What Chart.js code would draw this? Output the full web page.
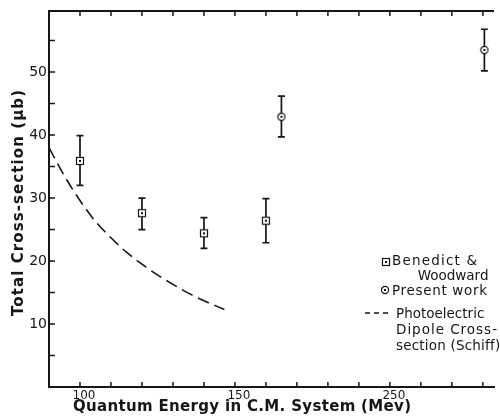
<!DOCTYPE html>
<html>
<head>
<meta charset="utf-8">
<script src="https://cdn.jsdelivr.net/npm/chart.js@4"></script>
<style>
  html, body { margin: 0; padding: 0; background: #fff; overflow: hidden; }
  canvas { display: block; }
</style>
</head>
<body>
<canvas id="chart" width="500" height="419"></canvas>
<script>
// Benedict & Woodward (squares)
const bwEnergy = [100, 120, 140, 160];
const bwSigma = [35.9, 27.6, 24.4, 26.4];
const bwLow = [32.0, 25.0, 22.0, 22.9];
const bwHigh = [39.9, 30.0, 26.9, 29.9];

// Present work (circles)
const pwEnergy = [165, 230.5];
const pwSigma = [42.9, 53.5];
const pwLow = [39.7, 50.2];
const pwHigh = [46.2, 56.8];

// Photoelectric dipole cross-section (Schiff), dashed
const dipoleEnergy = [90, 95, 100, 105, 110, 115, 120, 125, 130, 135, 140, 146.6];
const dipoleSigma = [38.0, 33.5, 29.6, 26.3, 23.7, 21.4, 19.5, 17.8, 16.3, 14.9, 13.7, 12.3];

// tick labels as printed on the figure
const xTickValues = [100, 150, 200];
const xTickLabels = ['100', '150', '250'];
const yTickValues = [10, 20, 30, 40, 50];
const yTickLabels = ['10', '20', '30', '40', '50'];

const ink = '#161616';

const toPoints = (xs, ys) => xs.map((v, i) => ({ x: v, y: ys[i] }));

// little marker images: open square / open circle with a centre dot
function makeMarker(shape) {
  const c = document.createElement('canvas');
  c.width = 10; c.height = 10;
  const g = c.getContext('2d');
  g.strokeStyle = ink; g.fillStyle = '#fff'; g.lineWidth = 1.2;
  if (shape === 'square') {
    g.fillRect(1.5, 1.5, 7, 7);
    g.strokeRect(1.5, 1.5, 7, 7);
  } else {
    g.beginPath(); g.arc(5, 5, 3.6, 0, Math.PI * 2); g.fill(); g.stroke();
  }
  g.fillStyle = ink;
  g.fillRect(4, 4, 2, 2);
  return c;
}
const squareMark = makeMarker('square');
const circleMark = makeMarker('circle');

// text stretched to a given width (lettered look)
function fitText(ctx, text, x, y, width) {
  ctx.letterSpacing = '0px';
  const w = ctx.measureText(text).width;
  const n = text.length - 1;
  const ls = n > 0 ? Math.max(0, (width - w) / n) : 0;
  ctx.letterSpacing = ls + 'px';
  ctx.textAlign = 'left';
  ctx.fillText(text, x, y);
  ctx.letterSpacing = '0px';
}

const errorBarPlugin = {
  id: 'errorBars',
  beforeDatasetsDraw(chart) {
    const { ctx, scales: { x, y } } = chart;
    const sets = [[bwEnergy, bwLow, bwHigh], [pwEnergy, pwLow, pwHigh]];
    ctx.save();
    ctx.strokeStyle = ink;
    ctx.lineWidth = 1.7;
    sets.forEach(([xs, lo, hi]) => xs.forEach((v, i) => {
      const px = x.getPixelForValue(v);
      const top = y.getPixelForValue(hi[i]);
      const bot = y.getPixelForValue(lo[i]);
      ctx.beginPath();
      ctx.moveTo(px, top); ctx.lineTo(px, bot);
      ctx.moveTo(px - 3.5, top); ctx.lineTo(px + 3.5, top);
      ctx.moveTo(px - 3.5, bot); ctx.lineTo(px + 3.5, bot);
      ctx.stroke();
    }));
    ctx.restore();
  }
};

const framePlugin = {
  id: 'frame',
  afterDraw(chart) {
    const { ctx, chartArea: a, scales: { x, y } } = chart;
    ctx.save();
    ctx.strokeStyle = ink;
    ctx.lineWidth = 2;
    ctx.beginPath();
    ctx.moveTo(a.left - 1, a.top); ctx.lineTo(a.right, a.top);
    ctx.stroke();

    // inward ticks
    ctx.lineWidth = 1.5;
    ctx.beginPath();
    x.ticks.forEach(t => {
      if (t.value <= x.min) return;
      const px = x.getPixelForValue(t.value);
      ctx.moveTo(px, a.bottom); ctx.lineTo(px, a.bottom - 5);
      ctx.moveTo(px, a.top); ctx.lineTo(px, a.top + 5);
    });
    y.ticks.forEach(t => {
      if (t.value <= y.min) return;
      const py = y.getPixelForValue(t.value);
      ctx.moveTo(a.left, py); ctx.lineTo(a.left + 6, py);
    });
    ctx.stroke();

    // axis titles
    ctx.fillStyle = ink;
    ctx.textBaseline = 'alphabetic';
    ctx.font = 'bold 15px "DejaVu Sans"';
    fitText(ctx, 'Quantum Energy in C.M. System (Mev)', 73, 411, 338);
    ctx.save();
    ctx.translate(23, 316);
    ctx.rotate(-Math.PI / 2);
    fitText(ctx, 'Total Cross-section (\u03bcb)', 0, 0, 226);
    ctx.restore();

    // legend
    ctx.font = '13.5px "DejaVu Sans"';
    ctx.drawImage(squareMark, 386 - 5, 262 - 5);
    fitText(ctx, 'Benedict &', 392, 265, 85);
    ctx.textAlign = 'right';
    ctx.fillText('Woodward', 488.5, 279.5);
    ctx.drawImage(circleMark, 385 - 5, 290 - 5);
    fitText(ctx, 'Present work', 392, 295, 95);
    ctx.lineWidth = 1.4;
    ctx.setLineDash([5, 4]);
    ctx.beginPath();
    ctx.moveTo(365, 313); ctx.lineTo(392, 313);
    ctx.stroke();
    ctx.setLineDash([]);
    fitText(ctx, 'Photoelectric', 396, 318, 86);
    fitText(ctx, 'Dipole Cross-', 396, 334, 101);
    fitText(ctx, 'section (Schiff)', 396, 349.5, 104);
    ctx.restore();
  }
};

new Chart(document.getElementById('chart'), {
  type: 'scatter',
  data: {
    datasets: [
      {
        label: 'Photoelectric Dipole Cross-section (Schiff)',
        data: toPoints(dipoleEnergy, dipoleSigma),
        showLine: true,
        borderColor: ink,
        borderWidth: 1.6,
        borderDash: [12, 6],
        cubicInterpolationMode: 'monotone',
        pointRadius: 0,
        fill: false
      },
      {
        label: 'Benedict & Woodward',
        data: toPoints(bwEnergy, bwSigma),
        pointStyle: squareMark,
        pointRadius: 5
      },
      {
        label: 'Present work',
        data: toPoints(pwEnergy, pwSigma),
        pointStyle: circleMark,
        pointRadius: 5
      }
    ]
  },
  options: {
    responsive: false,
    devicePixelRatio: 1,
    animation: false,
    layout: { padding: { top: 11, right: 0, left: 0, bottom: 0 } },
    plugins: { legend: { display: false }, tooltip: { enabled: false } },
    scales: {
      x: {
        type: 'linear',
        position: 'bottom',
        min: 90,
        max: 233.6,
        grid: { display: false, drawTicks: false },
        border: { display: true, color: ink, width: 2 },
        ticks: {
          stepSize: 10,
          includeBounds: false,
          autoSkip: false,
          maxRotation: 0,
          padding: 2,
          labelOffset: 4,
          color: ink,
          font: { family: 'DejaVu Sans', size: 12 },
          callback: v => {
            const i = xTickValues.indexOf(v);
            return i >= 0 ? xTickLabels[i] : '';
          }
        },
        afterFit: s => { s.height = 32; }
      },
      y: {
        type: 'linear',
        min: 0,
        max: 59.7,
        grid: { display: false, drawTicks: false },
        border: { display: true, color: ink, width: 2 },
        ticks: {
          stepSize: 5,
          includeBounds: false,
          autoSkip: false,
          padding: 2,
          color: ink,
          font: { family: 'DejaVu Sans', size: 14 },
          callback: v => {
            const i = yTickValues.indexOf(v);
            return i >= 0 ? yTickLabels[i] : '';
          }
        },
        afterFit: s => { s.width = 49; }
      }
    }
  },
  plugins: [errorBarPlugin, framePlugin]
});
</script>
</body>
</html>
